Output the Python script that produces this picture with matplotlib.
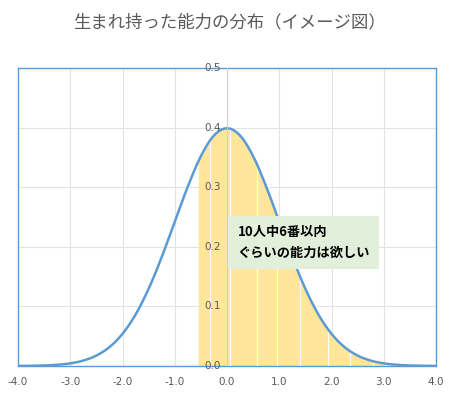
import matplotlib
matplotlib.use("Agg")
import matplotlib.pyplot as plt
import numpy as np

plt.rcParams['font.family'] = ['Noto Sans CJK JP', 'DejaVu Sans']

x_vals = [-4.0,-3.75,-3.5,-3.25,-3.0,-2.75,-2.5,-2.25,-2.0,-1.75,-1.5,-1.25,-1.0,-0.75,-0.5,-0.25,0.0,
          0.25,0.5,0.75,1.0,1.25,1.5,1.75,2.0,2.25,2.5,2.75,3.0,3.25,3.5,3.75,4.0]
y_vals = [0.0001,0.0004,0.0009,0.002,0.0044,0.0091,0.0175,0.0317,0.054,0.0863,0.1295,0.1826,0.242,0.3011,0.3521,0.3867,0.3989,
          0.3867,0.3521,0.3011,0.242,0.1826,0.1295,0.0863,0.054,0.0317,0.0175,0.0091,0.0044,0.002,0.0009,0.0004,0.0001]
fill_from, fill_to = -0.55, 3.0
sep_lines = [-0.33, 0.05, 0.57, 0.96, 1.4, 1.94, 2.36, 2.8]
title = "生まれ持った能力の分布（イメージ図）"
note = "10人中6番以内\nぐらいの能力は欲しい"

def catmull(xp, yp, n=20):
    xp = np.asarray(xp); yp = np.asarray(yp)
    X, Y = [], []
    for i in range(len(xp) - 1):
        y0 = yp[i - 1] if i > 0 else yp[i]
        y3 = yp[i + 2] if i + 2 < len(yp) else yp[i + 1]
        y1, y2 = yp[i], yp[i + 1]
        t = np.linspace(0, 1, n, endpoint=False)
        Y.append(0.5 * (2 * y1 + (-y0 + y2) * t + (2 * y0 - 5 * y1 + 4 * y2 - y3) * t**2 + (-y0 + 3 * y1 - 3 * y2 + y3) * t**3))
        X.append(xp[i] + (xp[i + 1] - xp[i]) * t)
    X.append([xp[-1]]); Y.append([yp[-1]])
    return np.concatenate(X), np.clip(np.concatenate(Y), 0, None)

fig = plt.figure(figsize=(4.59, 4.08), dpi=100)
ax = fig.add_axes([18/459, 1-366/408, (436-18)/459, (366-68)/408])

xs, ys = catmull(x_vals, y_vals)
m = (xs >= fill_from) & (xs <= fill_to)
ax.fill_between(xs[m], 0, ys[m], color='#ffe699', lw=0, zorder=2)
for s in sep_lines:
    ax.plot([s, s], [0, np.interp(s, xs, ys)], color='white', lw=0.8, zorder=3)

for gx in range(-4, 5):
    ax.axvline(gx, color='#e3e3e3', lw=0.8, zorder=1)
for gy in np.arange(0.1, 0.51, 0.1):
    ax.axhline(gy, color='#e3e3e3', lw=0.8, zorder=1)

ax.plot(xs, ys, color='#5b9bd5', lw=1.8, zorder=4)
ax.set_xlim(-4, 4)
ax.set_ylim(0, 0.5)
ax.axhline(0, color='#bfbfbf', lw=0.8, zorder=5)
ax.axvline(0, color='#d0d0d0', lw=0.8, zorder=5)
for sp in ax.spines.values():
    sp.set_color('#5b9bd5'); sp.set_linewidth(1)
ax.set_xticks(np.arange(-4, 4.01, 1))
ax.set_xticklabels([f"{v:.1f}" for v in np.arange(-4, 4.01, 1)], fontsize=7.5, color='#595959', family='DejaVu Sans')
ax.set_yticks([])
ax.tick_params(axis='x', length=0, pad=8)
for v in np.arange(0, 0.51, 0.1):
    ax.text(-0.12, v, f"{v:.1f}", ha='right', va='center', fontsize=7.5, color='#595959', family='DejaVu Sans', zorder=6)

ax.text(0.2, 0.207, note, ha='left', va='center', fontsize=9.5, fontweight='bold', color='black', zorder=7,
        linespacing=1.6, bbox=dict(boxstyle='square,pad=0.7', fc='#e2efda', ec='none'))
fig.text(0.5, 1-22/408, title, ha='center', va='center', fontsize=12.5, color='#595959')
fig.savefig("out.png", dpi=100)
